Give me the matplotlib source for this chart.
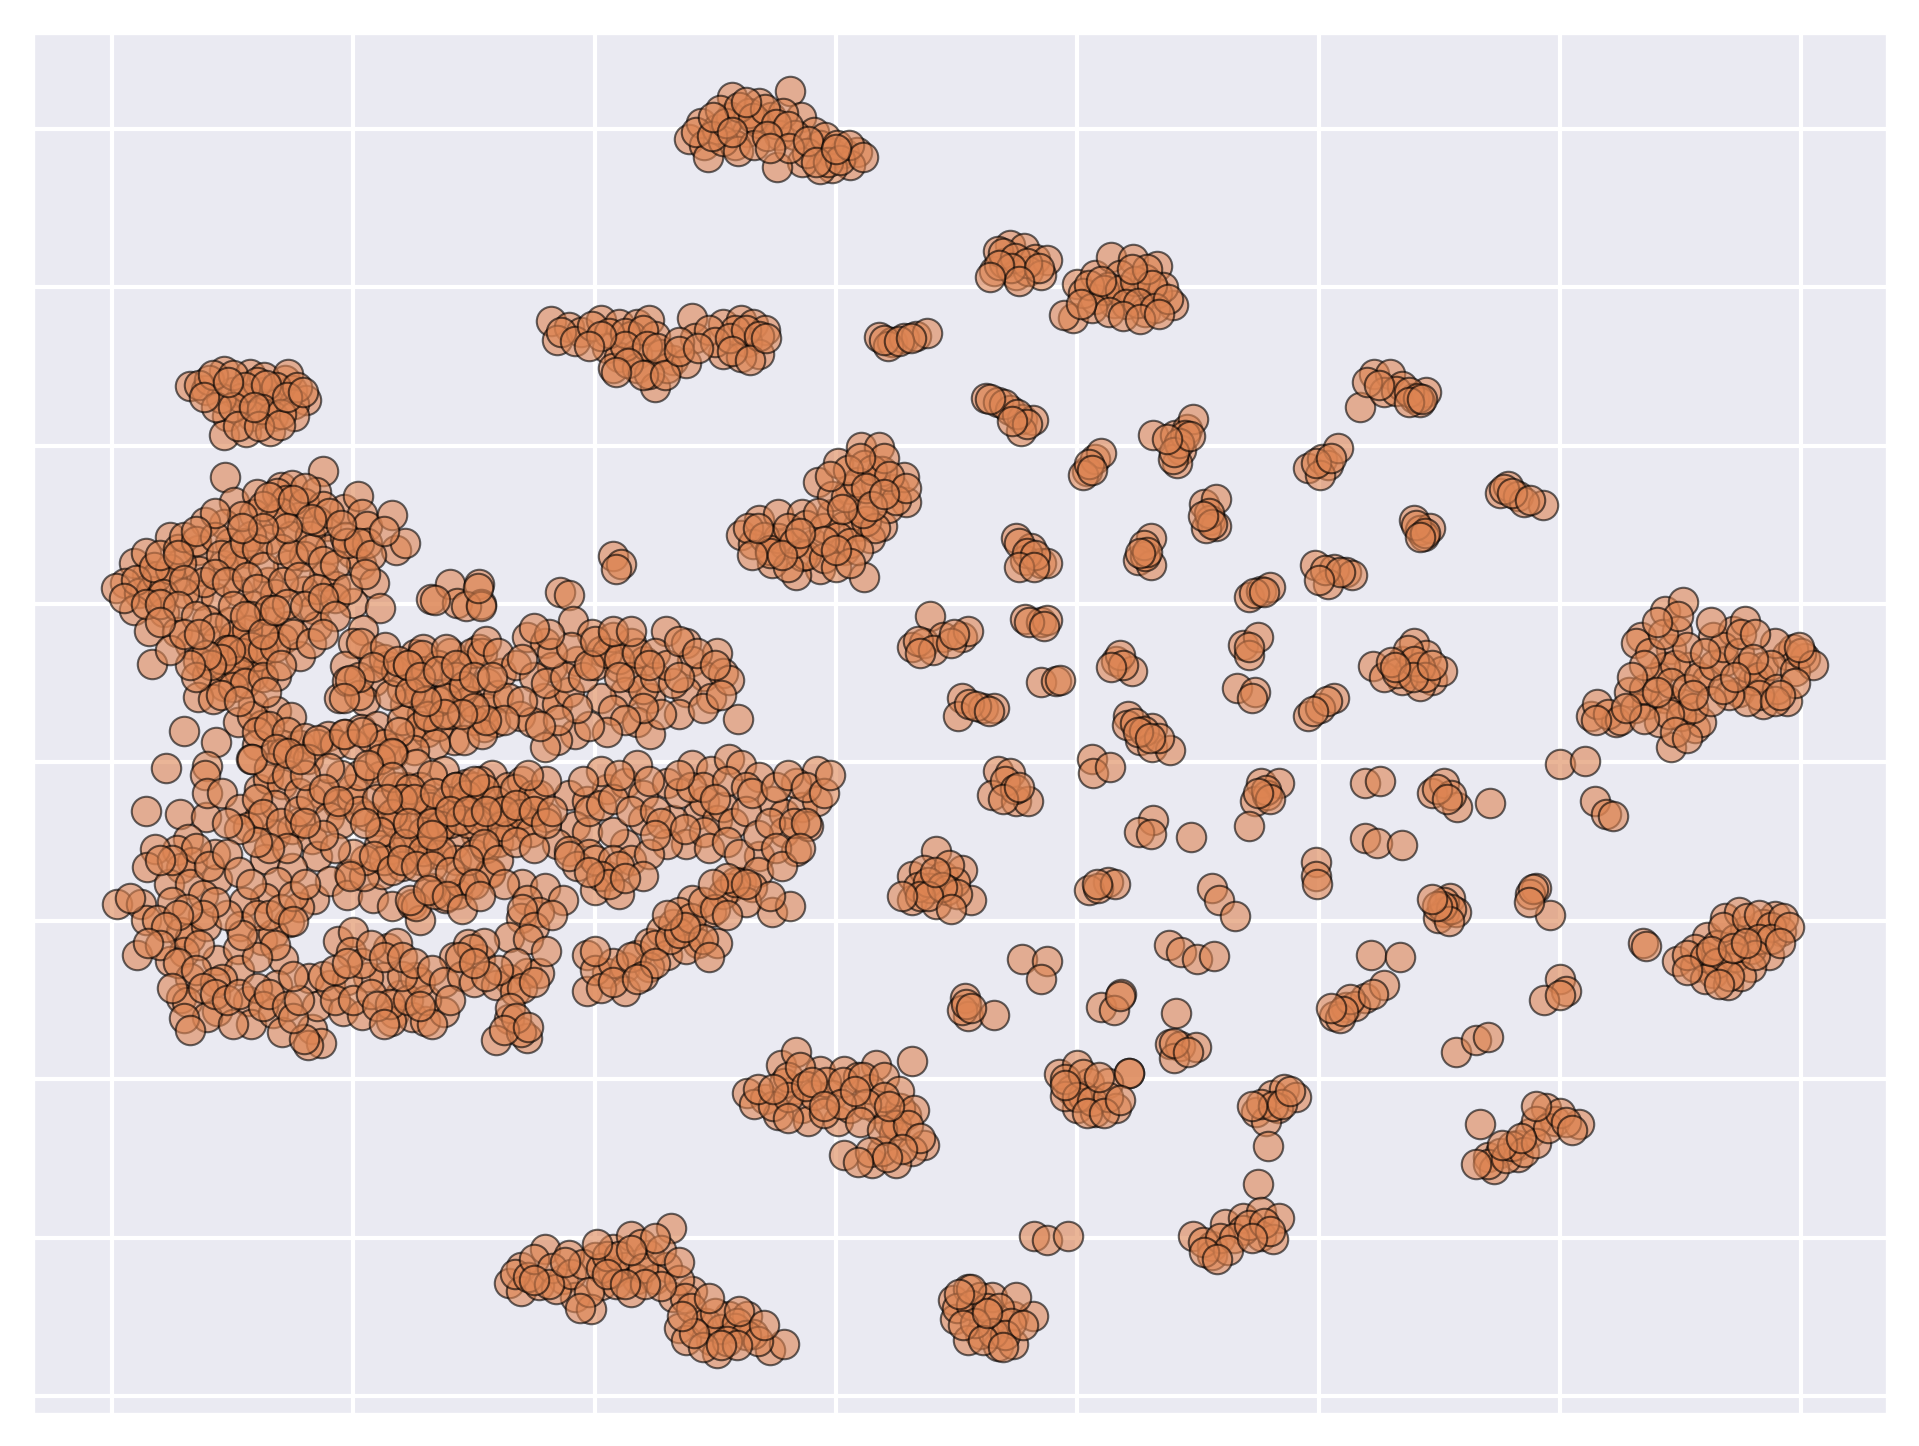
import numpy as np
import matplotlib
matplotlib.use('Agg')
import matplotlib.pyplot as plt
import seaborn as sns

# embedding coordinates, one list per blob
top_blob = [(478,1032),(488,1045),(491,1027),(501,1040),(514,1066),(513,1050),(526,1037),(536,1061),(546,1050),(562,1071),
    (553,1035),(571,1050),(582,1037),(587,1027),(597,1020),(607,1020),(617,1021),(612,1010),(597,1008),(587,1007),
    (572,1013),(551,1009),(494,1017),(516,1027),(536,1045),(556,1053),(504,1055),(566,1035),(528,1053),(506,1030),(576,1020),(591,1033),(601,1027),
    (484,1037),(497,1034),(509,1045),(520,1058),(531,1049),(541,1056),(550,1044),(560,1042),(519,1022),(532,1027),(543,1034),(561,1024),(577,1030),
    (593,1013),(603,1014),(611,1027),(622,1017),(583,1013),(498,1050),(525,1062),(514,1037),(545,1024),(600,1023)]
upper_left = [(364,882),(379,877),(369,867),(389,873),(405,883),(420,880),(435,880),(445,883),(430,870),(450,870),
    (410,860),(420,853),(435,855),(415,844),(435,844),(455,855),(465,850),(481,885),(483,868),(450,828),(460,844),
    (506,880),(521,883),(531,880),(541,875),(526,865),(506,855),(516,875),(536,855),(521,853),(476,848),(445,839),
    (372,873),(384,866),(398,878),(412,872),(425,872),(440,875),(425,862),(443,862),(452,860),(428,848),(440,838),(470,865),(495,875),(500,865),
    (512,868),(525,875),(536,870),(514,858),(529,850),(405,870),(395,862),(418,840),(458,838),(470,858),(486,860),(542,868)]
far_left = [(65,829),(78,826),(93,841),(114,839),(126,824),(143,834),(149,826),(161,817),(80,834),(100,824),(116,819),
    (131,814),(151,814),(95,804),(116,804),(133,804),(93,789),(111,791),(131,792),(151,804),(107,819),(90,819),(126,836),(146,839),
    (72,830),(84,838),(100,838),(120,832),(136,828),(153,828),(110,828),(128,830),(86,812),(100,812),(124,810),(140,806),(104,796),(122,796),(139,797),
    (76,820),(96,832),(145,820),(158,824),(118,812)]
upper_mid = [(731,923),(744,945),(756,942),(765,933),(775,932),(739,930),(749,920),(734,940),(759,923),(770,920),
    (796,885),(800,913),(815,920),(828,935),(846,933),(866,927),(879,895),(830,897),(815,900),(846,905),(866,905),
    (856,890),(856,917),(835,920),(825,910),(805,905),(871,910),(789,887),
    (738,938),(748,934),(758,930),(745,926),(768,926),(735,928),(752,915),(728,918),(810,912),(822,908),(835,908),(848,915),(858,925),(862,912),
    (840,896),(850,897),(864,893),(875,900),(812,893),(826,890),(838,886),(852,884),(868,888),(820,915),(845,925),(803,896)]
small_a = [(636,869),(646,865),(656,868),(666,870),(675,872),(643,862),
    (724,819),(734,816),(744,809),(754,802),(763,801),(753,792),(739,814),
    (1034,812),(1046,839),(1059,839),(1054,824),(1069,829),(1079,819),(1089,824),(1084,816),
    (640,867),(652,866),(662,868),(728,818),(750,806),(758,798),(746,800),(1040,832),(1064,825),(1075,824),(1082,819),(1075,816),(1086,818),(1050,830)]
small_b = [(808,759),(815,769),(820,774),(805,756),(863,789),(881,789),(891,794),(896,802),(886,776),(883,766),(879,769),(889,789),
    (991,762),(1003,769),(1008,764),(1016,778),(1001,756),(1150,741),(1157,747),(1165,739),(1186,731),(1170,734),
    (1079,719),(1084,711),(1092,712),(1087,706),(905,732),(915,736),(910,719),(915,714),(907,712),
    (749,704),(762,696),(757,686),(770,684),(775,684),(861,704),(850,686),(861,682),(856,689),
    (997,682),(1013,679),(1023,676),(1028,674),(1008,666),(942,656),(952,661),(960,664),
    (810,765),(812,760),(884,782),(880,775),(893,788),(874,785),(998,766),(1010,770),(1154,744),(1160,741),(1175,735),(1081,715),(1088,708),(1084,705),
    (909,725),(912,716),(904,722),(752,700),(758,692),(765,690),(752,680),(764,680),(855,698),(858,693),(852,692),(1005,678),(1018,676),(1000,670),(946,659),(955,660)]
small_c = [(678,640),(663,615),(673,618),(689,623),(704,623),(709,628),(757,638),(770,635),(775,637),(832,603),(845,595),(835,608),
    (937,616),(950,623),(942,608),(1045,599),(1069,603),(1079,618),(1089,608),(1074,593),(1094,588),(1084,583),(1102,595),(1069,588),
    (770,586),(782,587),(786,588),(704,573),(701,558),(722,565),(731,565),(932,581),(947,578),(945,573),
    (1013,573),(991,558),(1001,565),(842,558),(862,548),(852,538),(862,533),(877,530),(841,551),
    (812,523),(813,511),(827,516),(734,513),(744,511),(729,493),(749,488),(759,488),(952,503),(967,503),(947,488),(957,493),
    (1038,503),(1051,505),(1094,495),(1104,503),(1115,483),(1110,493),(1142,487),(1200,519),(1221,521),(1229,488),(1238,478),(1244,476),
    (668,620),(680,612),(695,618),(698,625),(670,610),(760,635),(772,632),(838,600),(828,598),(942,615),(1054,590),(1065,593),(1074,612),(1084,598),
    (1079,603),(1060,602),(1088,590),(1078,590),(1063,598),(1094,600),(710,568),(716,566),(727,562),(1007,570),(995,562),(848,552),(855,546),(868,540),
    (850,545),(860,540),(740,505),(748,498),(738,490),(752,500),(956,497),(960,490),(950,495),(1098,498),(1106,490)]
small_d = [(942,468),(894,459),(863,473),(851,463),(861,461),(1038,458),(1048,454),(1069,452),
    (663,427),(683,447),(673,432),(689,427),(704,432),(663,407),(683,404),(712,407),(699,422),(678,417),
    (998,438),(998,427),(999,420),(825,422),(810,415),(817,417),(831,420),(912,417),(917,407),(931,394),
    (1109,409),(1104,397),(1099,392),(1114,397),(1180,417),(1175,412),(1192,395),(1043,362),(1067,360),
    (754,359),(775,357),(770,342),(876,370),(886,364),(899,359),(913,361),(707,327),(709,312),(731,313),(704,317),
    (1023,319),(1038,327),(1054,337),(1013,312),(820,319),(836,330),(830,317),(882,314),(877,289),(885,287),(898,286),(880,277),
    (1269,372),(1271,369),(1200,342),(1205,332),(1187,325),(1200,329),(1114,282),(1130,292),(1140,295),(663,275),(843,265),
    (668,418),(694,436),(676,422),(692,415),(700,412),(670,410),(688,418),(676,410),(695,400),(655,410),(682,430),(1104,405),(1110,400),(1102,402),
    (1108,390),(1098,402),(1094,408),(1030,320),(1018,310),(1026,326),(1045,330),(1020,316),(1010,318),(708,322),(712,318),(816,420),(835,328),(1178,416),
    (1174,405),(880,290),(892,282)]
lower_mid = [(554,272),(567,282),(526,249),(541,244),(567,252),(587,267),(607,267),(633,272),(658,231),(597,247),(618,262),
    (633,236),(572,236),(602,226),(643,226),(552,231),(577,226),(653,236),(628,252),(582,247),(557,257),(612,236),
    (673,206),(648,216),(663,201),(607,198),(630,191),(650,191),(638,201),
    (560,262),(570,270),(532,240),(548,238),(560,245),(575,254),(592,258),(606,258),(622,262),(640,262),(652,250),(640,245),(625,240),(650,222),(665,235),
    (590,232),(604,240),(620,225),(638,218),(560,228),(535,252),(580,258),(616,250),(660,222),(644,238),(670,212),(655,203),(628,200),(642,196),(618,192),(590,238),(548,252)]
lower_small = [(785,264),(800,272),(795,251),(810,257),(825,257),(800,236),(815,233),(832,236),(843,265),(790,246),(805,246),
    (948,233),(961,247),(971,252),(981,245),(966,236),(956,226),(958,205),(950,174),
    (896,131),(912,123),(922,141),(937,146),(952,151),(967,146),(952,131),(937,136),(912,116),(962,129),
    (764,131),(775,128),(792,131),(1134,223),(1140,196),(1150,199),(1165,206),(1175,216),(1188,236),(1196,226),(1216,223),
    (1165,196),(1145,186),(1180,226),
    (790,260),(805,264),(800,245),(812,242),(825,245),(790,255),(818,262),(808,232),(822,232),(835,243),(952,240),(962,238),(970,240),(976,250),(945,238),
    (904,126),(918,130),(930,130),(942,140),(955,142),(960,135),(925,120),(945,130),(905,118),(916,112),(1140,190),(1155,195),(1160,205),(1170,200),(1180,208),
    (1190,220),(1200,232),(1205,225),(1152,206),(1130,190),(1180,238),(1168,212),(1210,218)]
right_upper = [(1226,558),(1257,578),(1267,623),(1287,644),(1302,652),(1292,613),(1307,598),(1287,598),(1327,623),(1343,628),
    (1353,636),(1368,598),(1388,608),(1403,606),(1393,613),(1378,618),(1348,578),(1368,568),(1388,570),(1312,548),
    (1292,533),(1272,568),(1287,573),(1302,568),(1322,588),(1337,603),(1317,553),(1246,553),(1282,553),(1231,568),(1360,588),(1263,618),(1297,628),
    (1240,560),(1250,555),(1262,565),(1270,580),(1280,590),(1295,600),(1305,615),(1275,610),(1285,625),(1298,640),(1280,635),(1270,600),(1260,590),(1292,585),
    (1305,580),(1315,590),(1328,600),(1335,615),(1348,610),(1355,598),(1365,590),(1375,600),(1380,580),(1365,575),(1355,570),(1340,575),(1395,595),(1400,610),
    (1410,600),(1395,585),(1378,570),(1300,558),(1310,565),(1325,570),(1335,580),(1290,560),(1270,556),(1280,578),(1255,565),(1320,610),(1350,625),(1362,625),
    (1382,575),(1398,615),(1360,605),(1310,575),(1295,545),(1305,540),(1345,590),(1230,555),(1325,635)]
right_lower = [(1297,357),(1312,352),(1322,377),(1337,392),(1353,382),(1378,394),(1383,382),(1373,362),(1358,367),(1337,357),
    (1327,347),(1339,337),(1312,367),(1368,387),(1348,397),(1358,352),
    (1305,362),(1320,360),(1330,370),(1345,375),(1335,385),(1355,392),(1365,395),(1375,385),(1385,392),(1365,375),(1345,360),(1330,355),(1350,345),(1340,345),
    (1320,342),(1375,375),(1390,385),(1362,362),(1382,372),(1305,350),(1325,365),(1332,338),(1343,368),(1354,372)]
centre_top = [(521,707),(536,719),(552,724),(572,724),(597,724),(618,714),(638,714),(623,672),(607,694),(587,679),(567,674),
    (547,684),(531,699),(557,699),(582,699),(607,714),(628,704),(585,750),(602,766),(621,779),(636,779),(612,744),(633,749),
    (648,744),(658,734),(656,754),(623,764),(638,759),(597,739),(618,729),(643,729),(572,689),(552,704),
    (527,712),(540,705),(545,694),(560,712),(575,715),(590,712),(602,705),(612,700),(575,690),(590,688),(600,680),(560,680),(545,692),(530,690),(565,700),
    (585,725),(625,718),(632,712),(622,725),(608,738),(618,750),(630,760),(640,770),(610,760),(595,755),(650,735),(644,755),(625,745),(658,745),(605,728),
    (590,702),(618,694),(612,684),(600,694),(535,712),(555,690),(630,730),(570,708),(640,740),(620,770)]
bottom_left = [(329,93),(339,106),(339,86),(359,121),(374,96),(384,81),(400,114),(415,121),(430,131),(445,116),(463,138),
    (425,106),(460,106),(405,91),(397,71),(354,91),(435,96),(379,116),(481,86),(486,61),(470,56),(496,46),(511,66),(526,66),
    (545,38),(557,43),(501,35),(516,56),(476,46),(531,51),(450,96),(465,81),(415,101),
    (334,100),(345,98),(350,112),(365,105),(368,88),(380,100),(390,108),(405,105),(410,115),(420,115),(438,125),(440,105),(455,120),(450,130),(418,92),(430,85),
    (395,85),(388,72),(362,92),(470,95),(475,80),(480,72),(492,60),(505,55),(500,68),(518,60),(525,50),(535,45),(510,45),(490,40),(482,52),(472,66),(518,42),
    (495,80),(455,90),(442,92),(410,100),(425,92),(350,95),(375,110),(402,125),(430,120),(470,110),(520,70),(540,58),(505,42)]
bottom_mid = [(697,79),(709,88),(699,63),(719,81),(729,63),(747,66),(763,66),(734,41),(747,43),(719,51),(709,46),(729,81),(749,81),
    (700,72),(712,75),(725,72),(735,72),(745,60),(730,52),(715,60),(705,58),(740,50),(755,58),(722,46),(738,40),(725,68),(712,88),(702,84)]

mass_upper = [(94,754),(175,759),(101,734),(120,740),(140,746),(149,748),(137,741),(144,735),(169,742),(118,724),(93,716),(77,717),
    (134,720),(155,721),(177,714),(192,728),(204,739),(207,724),(211,714),(232,723),(235,694),(243,700),(199,692),(206,683),
    (176,673),(146,682),(129,668),(113,692),(92,682),(71,694),(72,677),(48,705),(50,670),(29,674),(18,684),(28,692),(11,667),
    (3,663),(22,659),(32,661),(71,657),(86,655),(104,661),(118,648),(135,658),(159,661),(185,665),(217,667),(200,651),(222,647),
    (167,646),(18,645),(43,643),(31,628),(54,627),(65,617),(79,637),(87,620),(102,620),(130,635),(146,632),(129,623),(142,621),
    (170,632),(156,607),(208,629),(200,618),(71,603),(79,592),(93,583),(110,601),(123,602),(117,591),(136,591),(71,574),(84,572),
    (33,601),(193,599),(217,607),(229,599),(188,573),(195,587),(217,587),(210,570),(251,609),(258,613),(251,588),(280,610),(304,613),
    (264,654),(280,666),(286,651),(304,666),(306,650),(117,568),(136,562),(148,557),(104,553),(124,551),(116,558),(60,546),(86,537),
    (120,534),(141,534),(156,534),(179,542),(193,543),(206,547),(220,550),(233,532),(247,542),(261,545),(278,576),(243,568),(257,560),
    (291,579),(283,538),(308,549),(311,585),
    (148,706),(164,706),(131,703),(115,706),(98,700),(159,689),(181,695),(193,705),(211,700),(140,725),(159,733),(175,730),(104,681),
    (57,684),(37,673),(48,679),(76,668),(60,659),(98,635),(101,624),(112,629),(120,607),(101,602),(93,599)]
mass_upper_2 = [(20,670),(35,680),(40,690),(55,695),(60,705),(70,702),(85,705),(90,690),(100,690),(110,700),(120,695),(125,680),(140,695),(150,690),(165,695),
    (175,685),(185,682),(195,700),(205,700),(215,690),(225,710),(170,718),(180,725),(190,715),(160,745),(125,730),(108,722),(130,738),(150,735),(165,720),(145,712),
    (125,712),(108,712),(85,725),(70,710),(55,690),(42,658),(60,670),(85,675),(95,668),(112,672),(120,662),(142,668),(155,672),(170,662),(185,655),(195,662),(210,675),
    (10,655),(28,650),(40,650),(55,648),(70,640),(100,648),(115,640),(130,645),(145,650),(160,648),(175,655),(185,640),
    (85,630),(95,612),(108,610),(115,615),(125,612),(135,615),(105,595),(98,612),(90,605),(82,600),(78,608),(70,590),(65,600),(100,582),(110,585),(125,590),(140,600),
    (128,578),(90,575),(105,570),(48,612),(60,625),(40,635),(72,625),(110,640),(125,625),(150,625),(165,618),(175,625),(135,645),
    (120,545),(130,550),(145,545),(160,540),(170,535),(185,535),(200,535),(215,540),(225,535),(240,555),(255,550),(270,550),(280,560),(270,570),(255,578),(240,580),
    (230,575),(205,575),(205,590),(225,605),(235,595),(245,600),(260,595),(270,600),(290,600),(298,610),(285,590),(295,570),(310,565),(320,575),(300,555),(268,535),(250,530),(238,545)]
mass_lower = [(45,515),(28,480),(56,478),(78,475),(79,517),(77,510),(79,495),(91,495),(106,482),(122,498),(129,506),(141,502),(115,523),
    (142,528),(162,523),(174,494),(187,486),(199,490),(122,474),(113,467),(135,460),(149,465),(156,471),(166,457),(170,443),(127,441),
    (149,433),(137,422),(127,409),(109,405),(167,408),(155,401),(147,389),(106,386),(124,374),(133,379),(142,359),(63,457),(54,448),
    (36,449),(66,438),(57,433),(29,434),(47,420),(65,420),(87,424),(75,411),(50,405),(4,404),(24,404),(28,391),(37,391),(15,409),(57,381),
    (65,376),(78,386),(60,364),(48,357),(21,362),(87,358),(104,367),(105,350),(91,342),(65,343),(57,327),(62,323),(87,316),(79,311),(113,324),
    (115,305),(100,305),(133,314),(141,299),(137,337),(163,343),(166,301),(173,290),(162,288),(159,293),(170,320),(191,316),(207,313),(234,314),
    (249,311),(259,308),(275,315),(239,329),(251,344),(225,344),(212,344),(181,337),(195,341),(187,373),(200,381),(198,364),(229,368),(236,372),
    (207,355),(283,360),(295,371),(305,359),(231,308),
    (196,428),(181,423),(195,411),(216,409),(232,402),(224,428),(209,427),(249,404),(255,391),(276,409),(286,412),(296,420),(264,417),(221,472),
    (221,452),(236,482),(244,500),(263,480),(262,453),(250,448),(275,513),(293,502),(289,490),(302,461),(283,453),(313,430),(214,515),(222,509),
    (233,527),(252,519),(199,498),(211,476),(272,480),(300,487),(244,460),(269,465),(231,449),(309,493)]
mass_lower_2 = [(130,515),(145,510),(155,495),(135,485),(120,490),(125,478),(140,470),(155,480),(165,490),(180,475),(190,470),(205,480),(220,490),(235,470),(250,470),
    (265,465),(280,470),(295,470),(310,475),(320,480),(325,470),(335,485),(255,500),(265,510),(285,500),(300,500),(315,510),(235,500),(205,510),(190,510),(180,515),
    (160,510),(260,490),(240,490),(290,485),(305,505),(328,500),(340,505),(270,445),(285,440),(300,445),(310,450),(320,455),(330,460),(340,470),(350,480),(360,475),
    (255,440),(240,435),(225,440),(210,440),(200,445),(185,450),(175,460),(160,470),(145,450),(130,450),(120,455),(105,465),(95,470),(85,445),(70,450),(50,440),(40,440),
    (80,435),(95,445),(105,430),(115,420),(120,395),(130,395),(140,400),(150,410),(160,420),(150,390),(135,370),(120,360),(108,378),(95,395),(85,405),(75,395),(62,400),
    (55,395),(45,385),(40,370),(30,372),(72,370),(55,355),(70,350),(85,340),(75,335),(50,335),(60,310),(65,300),(85,330),(95,325),(105,330),(120,335),(125,320),(130,330),
    (145,320),(150,310),(155,325),(150,345),(175,345),(185,350),(195,355),(185,325),(200,325),(215,330),(230,322),(245,325),(260,325),(255,340),(240,345),(215,370),
    (225,360),(240,360),(250,355),(265,350),(275,340),(290,345),(300,340),(265,305),(255,320),(220,320),(225,305),(280,325)]
mass_mid_upper = [(268,653),(293,648),(306,648),(303,663),(371,660),(379,657),(415,689),(422,683),(418,679),
    (344,623),(359,618),(382,636),(398,625),(405,611),(420,598),(385,603),(365,598),(430,618),(415,623),(441,603),(425,578),(446,573),(459,628),
    (476,618),(481,603),(501,610),(491,591),(506,593),(476,578),(496,573),(519,556),(511,588),
    (206,618),(226,615),(216,598),(237,603),(257,608),(277,613),(307,610),(197,588),(192,573),(247,578),(262,558),(277,573),(292,583),(322,593),
    (328,573),(317,553),(292,538),(307,543),(338,558),(358,573),(348,553),(369,568),(379,578),(384,543),(369,538),(359,533),(405,573),(415,563),(435,553),(446,543),
    (116,523),(136,531),(146,528),(156,523),(171,538),(192,543),(207,545),(222,523),(232,528),(212,518),(176,498),(187,488),(232,508)]
mass_mid_upper_2 = [(310,620),(320,610),(335,600),(350,590),(360,585),(375,590),(390,590),(400,600),(410,610),(420,605),(430,590),(440,580),(450,590),(465,585),(470,560),
    (455,560),(440,565),(425,555),(410,545),(395,550),(385,565),(370,555),(355,550),(340,570),(325,555),(310,555),(300,565),(290,560),(275,560),(260,570),(245,600),(255,590),
    (270,595),(285,600),(300,590),(315,590),(340,605),(365,610),(380,615),(395,600),(420,590),(435,610),(450,610),(460,600),(470,620),(485,610),(500,600),(490,565),(505,575),
    (470,590),(445,600),(400,620),(415,628),(430,628),(362,625),(350,630)]
mass_mid = [(247,498),(263,483),(278,488),(293,493),(308,498),(318,488),(334,498),(349,493),(258,463),(273,468),(288,473),(303,473),(323,468),(339,478),
    (354,493),(232,478),(222,463),(242,453),(217,443),(232,432),(258,447),(273,447),(308,453),(347,463),(197,427),(252,402),(268,412),(288,422),(313,429),(247,407),
    (379,493),(394,488),(410,498),(405,513),(425,503),(440,493),(384,468),(369,453),(394,463),(379,447),(410,427),(425,453),(415,463),(440,473),(435,518),
    (460,503),(481,518),(496,513),(511,523),(521,518),(536,508),(486,478),(465,473),(491,488),(501,473),(476,453),(491,463),(460,453),(506,483),(547,488),
    (557,478),(572,483),(584,488),(584,513),(567,503),(557,463),(536,443),(567,447),(521,422),(547,397),(562,402),(511,417),(577,468)]
mass_mid_2 = [(240,490),(250,490),(268,495),(285,500),(300,505),(325,480),(335,485),(245,470),(265,470),(280,480),(295,480),(310,480),(350,480),(360,505),(345,510),
    (240,440),(252,435),(265,435),(280,430),(295,440),(300,420),(320,440),(335,455),(350,450),(360,470),(265,460),(228,490),(210,470),(365,480),(340,420),(325,420),(262,415),
    (278,410),(290,400),(305,410),(390,505),(395,480),(405,485),(415,490),(420,510),(430,480),(445,505),(450,480),(455,470),(395,445),(385,435),(400,440),(415,440),(430,440),
    (445,445),(450,460),(400,415),(420,435),(470,495),(480,500),(490,500),(510,505),(525,500),(470,510),(500,490),(515,470),(525,480),(530,495),(475,465),(495,450),(510,455),
    (520,445),(535,460),(545,470),(550,500),(560,510),(575,500),(590,495),(595,510),(565,470),(575,470),(550,450),(535,430),(555,435),(570,450),(530,418),(525,405),(545,410)]
mass_low = [(359,417),(344,407),(374,407),(339,392),(354,397),(329,377),(308,372),(298,367),(288,360),(344,347),(329,342),(354,347),(318,337),(334,332),
    (329,309),(318,292),(344,294),(339,299),
    (405,427),(420,412),(440,427),(394,362),(410,347),(394,332),(425,352),(435,362),(445,372),(455,382),(465,387),(481,382),(496,397),(506,412),(516,422),
    (460,362),(425,332),(445,352),(481,407),(470,397),(486,372),(501,372),(476,367),(379,443),
    (340,400),(350,385),(365,395),(345,375),(360,365),(335,355),(320,350),(310,345),(300,355),(340,335),(350,340),(330,318),(335,310),(325,300),(345,303),
    (400,350),(415,355),(430,360),(440,345),(405,335),(415,340),(400,365),(450,370),(462,375),(470,380),(480,392),(490,405),(500,400),(510,395),(490,375),(495,360),(475,385),
    (460,395),(450,355),(435,342),(412,420),(425,425),(395,430),(510,425),(525,420),(498,420)]

blobs = [top_blob, upper_left, far_left, upper_mid, small_a, small_b, small_c, small_d, lower_mid, lower_small,
    right_upper, right_lower, centre_top, bottom_left, bottom_mid, mass_upper, mass_upper_2, mass_lower, mass_lower_2,
    mass_mid_upper, mass_mid_upper_2, mass_mid, mass_mid_2, mass_low]
xticks = [0,200,400,600,800,1000,1200,1400]
yticks = [0,130,260,390,520,650,780,910,1040]

sns.set_style('darkgrid')
plt.rcParams['grid.linewidth'] = 1.
pts = np.array([p for b in blobs for p in b], dtype=float)

fig = plt.figure(figsize=(1919/300.,1446/300.),dpi=300)
ax = fig.add_axes([33/1919.,32/1446.,1854/1919.,1381/1446.])
ax.scatter(pts[:,0],pts[:,1],s=50,color='#dd8452',alpha=.6,edgecolor='k',linewidth=.5)
ax.set_xlim(-65.5,1471)
ax.set_ylim(-14.8,1118.6)
ax.set_xticks(xticks)
ax.set_yticks(yticks)
ax.set_xticklabels([])
ax.set_yticklabels([])
fig.savefig('out.png',dpi=300)
